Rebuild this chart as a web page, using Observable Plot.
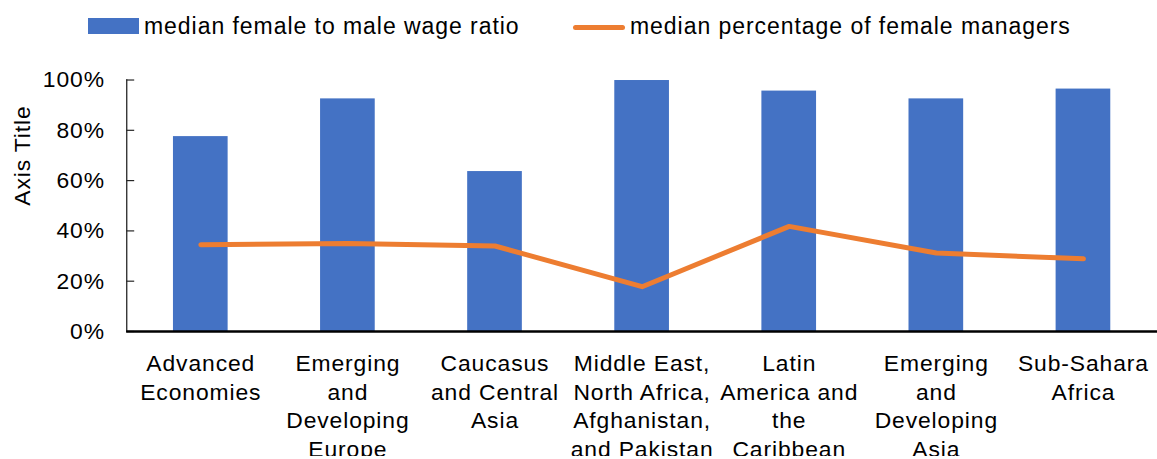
<!DOCTYPE html>
<html>
<head>
<meta charset="utf-8">
<script src="https://cdn.jsdelivr.net/npm/d3@7"></script>
<script src="https://cdn.jsdelivr.net/npm/@observablehq/plot@0.6"></script>
<style>
  html, body { margin: 0; padding: 0; background: #fff; overflow: hidden; width: 1157px; height: 459px; }
  #wrap { position: relative; width: 1157px; height: 459px; font-family: "Liberation Sans", Arial, sans-serif; }
  #legend { position: absolute; left: 0; top: 0; width: 1157px; height: 60px; z-index: 2; }
  .sw { position: absolute; }
  .lt { position: absolute; font-size: 23px; line-height: 23px; color: #000; white-space: nowrap; letter-spacing: 0.95px; }
  #chart { position: absolute; left: 0; top: 0; }
</style>
</head>
<body>
<div id="wrap">
  <div id="legend">
    <div class="sw" style="left:88px;top:18px;width:51px;height:16px;background:#4472C4;"></div>
    <div class="lt" style="left:144px;top:15px;">median female to male wage ratio</div>
    <div class="sw" style="left:573px;top:25px;width:52px;height:5px;border-radius:3px;background:#ED7D31;"></div>
    <div class="lt" style="left:630px;top:15px;">median percentage of female managers</div>
  </div>
  <div id="chart"></div>
</div>
<script>
const categories = [
  "Advanced Economies",
  "Emerging and Developing Europe",
  "Caucasus and Central Asia",
  "Middle East, North Africa, Afghanistan, and Pakistan",
  "Latin America and the Caribbean",
  "Emerging and Developing Asia",
  "Sub-Sahara Africa"
];
const categoryLabels = [
  "Advanced\nEconomies",
  "Emerging\nand\nDeveloping\nEurope",
  "Caucasus\nand Central\nAsia",
  "Middle East,\nNorth Africa,\nAfghanistan,\nand Pakistan",
  "Latin\nAmerica and\nthe\nCaribbean",
  "Emerging\nand\nDeveloping\nAsia",
  "Sub-Sahara\nAfrica"
];
const wageRatio = [0.775, 0.925, 0.636, 0.998, 0.956, 0.925, 0.964];
const femaleManagers = [0.345, 0.350, 0.340, 0.178, 0.418, 0.312, 0.289];
const yTicks = [0, 0.2, 0.4, 0.6, 0.8, 1.0];

const rows = categories.map((c, i) => ({cat: c, wage: wageRatio[i], mgr: femaleManagers[i]}));
const labelOf = new Map(categories.map((c, i) => [c, categoryLabels[i]]));

const W = 1164, H = 459, mL = 127, mR = 0, mT = 80, mB = 126;

const chart = Plot.plot({
  width: W,
  height: H,
  marginLeft: mL,
  marginRight: mR,
  marginTop: mT,
  marginBottom: mB,
  style: {fontFamily: "'Liberation Sans', Arial, sans-serif", color: "#000", background: "transparent", letterSpacing: "0.9px"},
  x: {domain: categories, paddingInner: 0.63, paddingOuter: 0.315, axis: null},
  y: {domain: [0, 1], axis: null},
  marks: [
    Plot.barY(rows, {x: "cat", y: "wage", fill: "#4472C4"}),
    Plot.ruleY(yTicks, {y: d => d, insetRight: W - mL - mR - 8, stroke: "#262626", strokeWidth: 1.2}),
    Plot.frame({anchor: "left", stroke: "#262626", strokeWidth: 1.3}),
    Plot.ruleY([0], {stroke: "#000", strokeWidth: 2.5}),
    Plot.lineY(rows, {x: "cat", y: "mgr", stroke: "#ED7D31", strokeWidth: 5, strokeLinecap: "round", strokeLinejoin: "round"}),
    Plot.axisY({ticks: yTicks, tickFormat: d3.format(".0%"), tickSize: 0, tickPadding: 22, fontSize: 23, label: null}),
    Plot.axisX({tickSize: 0, tickPadding: 19, fontSize: 23, lineHeight: 1.26, tickFormat: d => labelOf.get(d), label: null}),
    Plot.text(["Axis Title"], {frameAnchor: "left", rotate: -90, dx: -105, fontSize: 23, fill: "#000"})
  ]
});
document.getElementById("chart").appendChild(chart);
</script>
</body>
</html>
